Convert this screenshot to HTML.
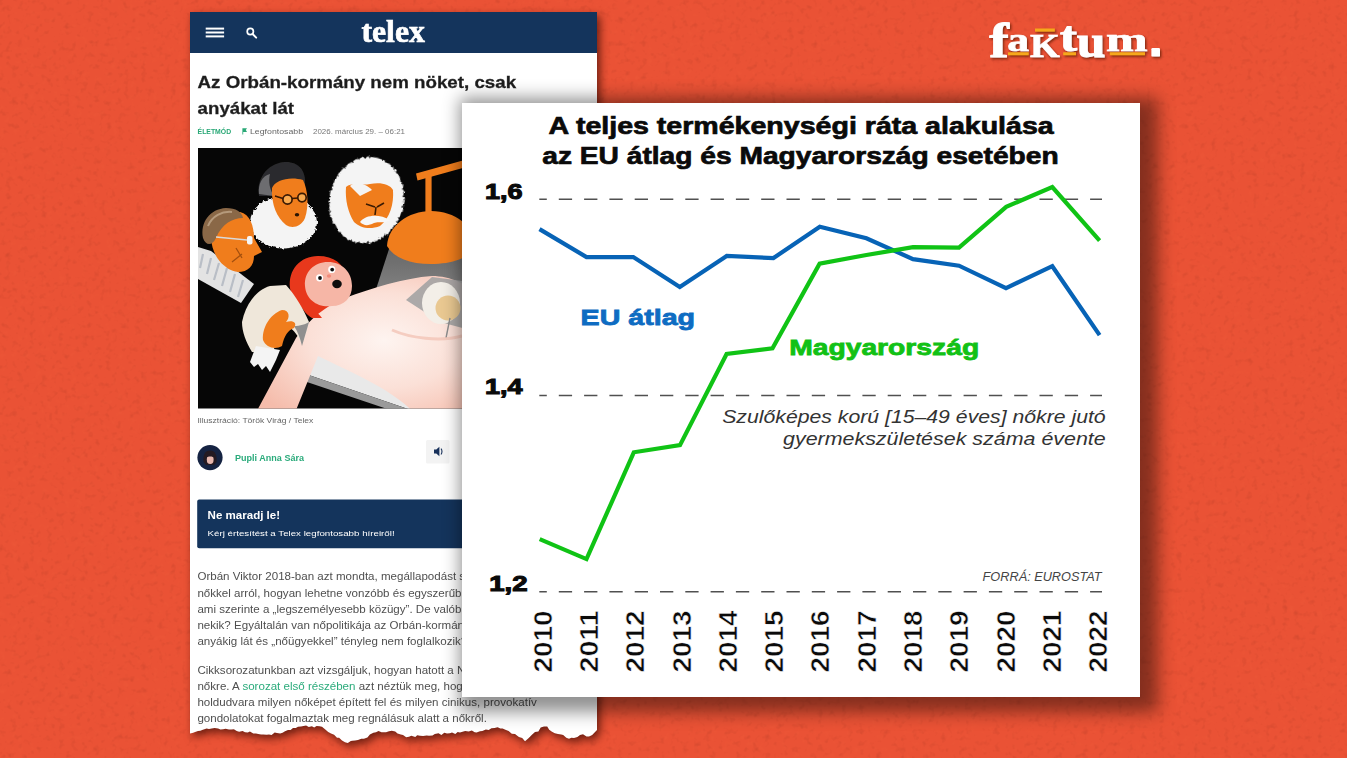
<!DOCTYPE html>
<html lang="hu">
<head>
<meta charset="utf-8">
<title>Faktum</title>
<style>
*{box-sizing:border-box;margin:0;padding:0}
html,body{width:1347px;height:758px;overflow:hidden}
body{position:relative;background:#ea5235;font-family:"Liberation Sans",sans-serif;}
#bgtex{position:absolute;left:0;top:0;width:1347px;height:758px}
#artshadow{position:absolute;left:0;top:0;width:1347px;height:758px;filter:drop-shadow(3px 4px 4px rgba(50,6,0,.68))}
#article{position:absolute;left:190px;top:12px;width:407px;height:746px;background:#fff;overflow:hidden;
 clip-path:polygon(0.0px 0.0px,407.0px 0.0px,407.0px 718.0px,404.6px 720.5px,402.2px 723.1px,399.0px 724.5px,396.5px 724.6px,393.0px 722.3px,390.0px 723.0px,387.4px 725.1px,384.0px 725.9px,381.4px 725.8px,379.0px 726.8px,376.3px 725.7px,373.2px 723.1px,371.2px 722.6px,368.0px 722.0px,364.8px 721.2px,362.0px 719.7px,359.2px 717.7px,357.2px 714.6px,354.0px 714.4px,350.7px 715.5px,348.4px 719.4px,345.0px 720.0px,342.2px 722.5px,338.5px 726.2px,335.0px 729.2px,332.2px 726.0px,328.9px 724.9px,325.0px 722.0px,321.8px 721.7px,318.6px 719.0px,316.0px 718.0px,312.6px 716.6px,310.4px 716.5px,307.6px 715.2px,304.5px 716.0px,301.4px 716.2px,298.7px 718.1px,295.8px 717.4px,292.4px 719.1px,290.0px 719.2px,286.6px 720.6px,284.7px 720.2px,281.8px 718.5px,278.7px 719.6px,275.2px 718.9px,273.4px 719.5px,270.0px 720.5px,267.7px 719.9px,265.3px 722.0px,262.0px 720.6px,259.9px 721.3px,257.0px 721.4px,254.3px 720.8px,251.4px 722.9px,248.5px 721.3px,244.8px 721.9px,242.5px 723.6px,239.0px 723.7px,236.7px 723.4px,233.1px 724.1px,230.0px 723.7px,227.2px 723.2px,225.3px 725.0px,221.3px 723.8px,219.0px 724.8px,216.2px 725.3px,213.0px 723.0px,210.8px 722.6px,207.5px 721.5px,205.2px 719.6px,201.8px 718.8px,199.0px 719.2px,196.0px 720.3px,194.3px 720.2px,191.5px 720.2px,188.5px 719.1px,186.0px 720.3px,183.4px 720.7px,179.9px 722.4px,177.4px 725.5px,173.9px 726.7px,171.3px 726.8px,168.0px 728.1px,165.1px 728.5px,162.4px 728.7px,160.8px 729.1px,157.8px 731.1px,155.0px 730.3px,152.0px 728.5px,149.1px 725.7px,147.0px 725.7px,144.1px 722.8px,141.0px 721.4px,138.2px 719.9px,135.3px 717.4px,132.0px 714.7px,129.6px 714.3px,126.6px 714.1px,124.2px 715.4px,121.9px 714.2px,118.8px 715.1px,116.1px 713.4px,113.5px 714.1px,111.0px 714.6px,108.0px 714.7px,105.8px 716.0px,103.0px 716.1px,100.6px 718.0px,98.0px 717.9px,95.0px 719.2px,92.6px 720.7px,90.2px 721.5px,87.0px 720.9px,84.7px 720.5px,81.6px 723.1px,79.0px 722.5px,76.6px 722.8px,73.3px 722.6px,71.1px 722.5px,68.2px 722.0px,66.0px 721.6px,63.3px 721.4px,59.9px 719.6px,57.8px 720.4px,55.0px 720.3px,52.6px 719.1px,49.1px 719.7px,46.7px 718.9px,43.9px 717.3px,41.3px 717.6px,39.0px 717.6px,35.6px 716.7px,33.1px 717.3px,30.5px 717.6px,28.1px 716.6px,24.6px 715.9px,21.7px 716.5px,19.0px 717.0px,16.6px 716.5px,12.9px 717.7px,10.3px 718.8px,8.0px 719.0px,5.1px 719.9px,3.2px 720.8px,0.0px 721.4px)}
#hdr{position:absolute;left:0;top:0;width:407px;height:41px;background:#14345c}
.abs{position:absolute;white-space:nowrap}
#card{position:absolute;left:462px;top:103px;width:678px;height:594px;background:#fff;box-shadow:8px 5px 16px 10px rgba(0,0,0,.43)}
#chart{position:absolute;left:0;top:0;width:1347px;height:758px}
</style>
</head>
<body>
<svg id="bgtex" width="1347" height="758">
 <filter id="noise" x="0" y="0" width="100%" height="100%" color-interpolation-filters="sRGB">
  <feTurbulence type="fractalNoise" baseFrequency="0.17" numOctaves="2" seed="11" result="n"/>
  <feColorMatrix type="matrix" values="0 0 0 0 0.15  0 0 0 0 0.02  0 0 0 0 0  2.2 0 0 0 -1.2" result="dark"/>
  <feColorMatrix in="n" type="matrix" values="0 0 0 0 1  0 0 0 0 0.48  0 0 0 0 0.3  0 -2.2 0 0 1.0" result="light"/>
  <feMerge><feMergeNode in="dark"/><feMergeNode in="light"/></feMerge>
 </filter>
 <rect width="1347" height="758" fill="#ea5235"/>
 <rect width="1347" height="758" filter="url(#noise)" opacity=".1"/>
</svg>

<div id="artshadow">
<div id="article">
 <div id="hdr"></div>
 <svg class="abs" style="left:0;top:0" width="407" height="746" viewBox="190 12 407 746" font-family="Liberation Sans, sans-serif">
  <defs>
   <clipPath id="imgclip"><rect x="198" y="148" width="391" height="260.5"/></clipPath>
   <filter id="soft" x="-5%" y="-5%" width="110%" height="110%"><feGaussianBlur stdDeviation="0.7"/></filter>
   <filter id="soft2" x="-20%" y="-20%" width="140%" height="140%"><feGaussianBlur stdDeviation="1.6"/></filter>
   <filter id="fuzz" x="-10%" y="-10%" width="120%" height="120%"><feTurbulence type="fractalNoise" baseFrequency="0.35" numOctaves="2" seed="3" result="t"/><feDisplacementMap in="SourceGraphic" in2="t" scale="4.5" xChannelSelector="R" yChannelSelector="G"/><feGaussianBlur stdDeviation="0.5"/></filter>
   <filter id="txtblur"><feGaussianBlur stdDeviation="0.5"/></filter>
   <radialGradient id="belly" cx="0.58" cy="0.45" r="0.66">
    <stop offset="0" stop-color="#fef4f0"/><stop offset=".5" stop-color="#fbe0d7"/><stop offset="1" stop-color="#f5bcab"/>
   </radialGradient>
   <linearGradient id="cone" x1="0" y1="0" x2="0" y2="1">
    <stop offset="0" stop-color="#6f6f6f"/><stop offset="1" stop-color="#a9a9a9"/>
   </linearGradient>
  </defs>
  <!-- header icons -->
  <g fill="#fff">
   <rect x="205.7" y="27.6" width="18.4" height="2"/>
   <rect x="205.7" y="31.5" width="18.4" height="2"/>
   <rect x="205.7" y="35.4" width="18.4" height="2"/>
  </g>
  <circle cx="250.3" cy="31.5" r="3.1" fill="none" stroke="#fff" stroke-width="1.7"/>
  <path d="M252.6 34 L256.2 37.6" stroke="#fff" stroke-width="2" stroke-linecap="round"/>
  <text x="361.4" y="41.5" font-family="Liberation Serif, serif" font-weight="700" font-size="32.5" fill="#fff" stroke="#fff" stroke-width=".7" textLength="63.5" lengthAdjust="spacingAndGlyphs">telex</text>
  <!-- headline -->
  <g font-weight="700" font-size="17" fill="#1f1f1f" stroke="#1f1f1f" stroke-width=".3" filter="url(#txtblur)">
   <text x="197.6" y="88.2" textLength="318.5" lengthAdjust="spacingAndGlyphs">Az Orbán-kormány nem nöket, csak</text>
   <text x="197.6" y="114.2" textLength="96.5" lengthAdjust="spacingAndGlyphs">anyákat lát</text>
  </g>
  <!-- meta -->
  <g font-size="6.4" filter="url(#txtblur)">
   <text x="197.6" y="133.8" font-weight="700" fill="#2aa876" textLength="33.5" lengthAdjust="spacingAndGlyphs">ÉLETMÓD</text>
   <path d="M242.4 128.2h4.6l-1.2 1.9 1.2 1.9h-3.8v2.6h-.8z" fill="#2aa876"/>
   <text x="250" y="133.8" fill="#666" textLength="53" lengthAdjust="spacingAndGlyphs">Legfontosabb</text>
   <text x="313" y="133.8" fill="#777" textLength="92" lengthAdjust="spacingAndGlyphs">2026. március 29. – 06:21</text>
  </g>
  <!--ILLU-START-->
  <g clip-path="url(#imgclip)">
   <rect x="198" y="148" width="391" height="261" fill="#060606"/>
   <g filter="url(#soft)">
    <!-- light cone from lamp -->
    <path d="M390 246 L368 314 L470 340 L470 246 Z" fill="url(#cone)" opacity=".92"/>
    <!-- table -->
    <path d="M318 352 L330 346 L470 420 L440 420 L300 372 Z" fill="#e9e9e9"/>
    <path d="M300 372 L440 420 L420 420 L298 379 Z" fill="#9a9a9a"/>
    <!-- figure 3: white hair + ruff -->
    <ellipse cx="366.500" cy="200" rx="37" ry="43.500" fill="#f4f4f4" transform="rotate(14 366.500 200)" filter="url(#fuzz)"/>
    <path d="M346 187 C352 182 362 186 370 184 C380 182 390 184 393 190 C394 204 390 218 380 226 C370 230 360 228 354 222 C348 212 345 200 346 187Z" fill="#f07d1d"/>
    <path d="M350 186 C356 180 366 184 372 190 L360 196 Z" fill="#f4f4f4"/>
    <path d="M360 222 C366 214 380 214 390 220 C384 224 378 221 374 223 C368 226 364 226 360 222Z" fill="#f7f7f7"/>
    <path d="M366 204 l9 3 M384 203 l-7 4 M376 207 l-1 8" stroke="#3a1c06" stroke-width="1.6" fill="none"/>
    <!-- figure 2: ruff, face, hair -->
    <ellipse cx="283.500" cy="222.500" rx="33.500" ry="26" fill="#f4f4f4" filter="url(#fuzz)"/>
    <path d="M259 196 C256 180 266 164 284 162 C298 161 306 170 305 184 L274 196 Z" fill="#2b2b2d"/>
    <path d="M259 194 C258 184 262 176 270 174 C268 182 270 190 274 196 Z" fill="#6d6d70"/>
    <path d="M272 188 C275 180 290 176 303 180 C308 190 309 206 305 218 C301 227 292 229 286 225 C277 218 271 204 272 188Z" fill="#f07d1d"/>
    <circle cx="287.500" cy="199.500" r="4.600" fill="#f9a94e" stroke="#3a1a04" stroke-width="1.700"/>
    <circle cx="302" cy="197.600" r="4.200" fill="#f9a94e" stroke="#3a1a04" stroke-width="1.700"/>
    <path d="M275 196 L283 198.500 M292 198.500 L298 198" stroke="#3a1a04" stroke-width="1.500"/>
    <ellipse cx="297" cy="214.800" rx="2.200" ry="1.700" fill="#2a1204"/>
    <!-- figure 1: ruff band, face, hair -->
    <path d="M198 247 L211 251 L254 284 L241 303 L198 279 Z" fill="#e3e3e3"/>
    <path d="M203 254l-3 14M211 258l-4 16M219 263l-5 17M227 268l-5 18M235 274l-5 18M243 280l-5 17" stroke="#b9bec6" stroke-width="2.200"/>
    <path d="M211 238 C210 222 222 211 240 212 C250 214 254 226 254 238 L262 252 L254 256 C254 266 248 272 238 272 C224 270 212 256 211 238Z" fill="#f07d1d"/>
    <path d="M203 238 C200 222 210 209 226 208 C236 208 242 212 243 218 C232 218 222 224 216 238 C212 246 206 246 203 238Z" fill="#8a6746"/>
    <path d="M208 226 C212 216 222 211 232 212" stroke="#b59a7c" stroke-width="2" fill="none"/>
    <path d="M216 237 L247 240" stroke="#d9d9d9" stroke-width="1.600"/>
    <rect x="247" y="236" width="5.500" height="8.500" rx="2" fill="#f6f6f6"/>
    <path d="M232 262 l10 -8 M236 248 l6 10" stroke="#a4500f" stroke-width="1.300" fill="none"/>
    <!-- lamp -->
    <path d="M416 173.500 L470 158.500 L470 166 L417.500 180.500 Z" fill="#f07d1d"/>
    <rect x="425.400" y="176" width="6.200" height="40" fill="#f07d1d"/>
    <path d="M387 246 C388 226 408 211 431 211 C455 211 474 226 476 246 C470 258 452 264 431 264 C410 264 394 258 387 246Z" fill="#f07d1d"/>
    <!-- baby hair -->
    <path d="M290 288 C288 270 300 256 318 256 C334 256 344 264 346 276 L344 300 C350 304 356 300 360 296 C356 310 340 318 322 316 C304 312 292 304 290 288Z" fill="#e8391c"/>
    <!-- body -->
    <path d="M252 420 L296 338 C310 318 326 306 345 298 C372 288 404 278 432 276 C450 276 470 284 480 300 L480 420 L420 420 C400 392 350 372 318 356 L292 420 Z" fill="url(#belly)"/>
    <!-- ultrasound thing -->
    <path d="M406 300 L432 277 L470 282 L470 330 L440 322 Z" fill="#a3a3a3" opacity=".9"/>
    <ellipse cx="441" cy="303" rx="19" ry="21" fill="#f3efe8"/>
    <circle cx="448" cy="308" r="12.500" fill="#e9c891"/>
    <path d="M450 318 L446 338" stroke="#8c8c8c" stroke-width="1.400"/>
    <path d="M392 330 C410 338 440 342 462 336" stroke="#f3c4b6" stroke-width="3" fill="none" opacity=".8"/>
    <!-- baby face -->
    <path d="M305 286 C304 272 314 262 328 262 C342 262 352 272 352 286 C352 298 344 306 332 306 C318 308 306 300 305 286Z" fill="#f6b6a6"/>
    <circle cx="319.600" cy="277.800" r="3.600" fill="#fff"/><circle cx="320" cy="278" r="1.900" fill="#111"/>
    <circle cx="331.800" cy="269.400" r="3.600" fill="#fff"/><circle cx="332.200" cy="269.600" r="1.900" fill="#111"/>
    <ellipse cx="337" cy="284" rx="4.800" ry="4.200" fill="#111"/>
    <ellipse cx="329" cy="276" rx="2.200" ry="1.800" fill="#f08a7a"/>
    <path d="M300 300 C308 306 318 312 322 318 L312 318 C306 314 300 308 300 300Z" fill="#e8391c"/>
    <!-- cloth, hand, cuff -->
    <path d="M242 322 C246 304 256 290 270 286 L286 285 C296 296 304 310 309 322 C306 334 304 340 302 344 C298 336 294 330 288 326 L272 352 L252 352 C246 342 242 332 242 322Z" fill="#efe7da"/>
    <path d="M294 326 C300 326 306 324 309 322 L302 346 C300 338 298 332 294 326Z" fill="#8f8f8f"/>
    <path d="M263 340 C262 328 270 314 282 310 C290 310 290 318 286 322 C292 320 298 322 294 328 C288 330 284 336 282 346 C276 350 266 348 263 340Z" fill="#f07d1d"/>
    <path d="M250 362 L256 346 L280 350 L276 360 L270 372 L266 366 L262 370 L258 364 L254 367 Z" fill="#f4f4f4"/>
   </g>
  </g>
  <!--ILLU-END-->
  <!-- caption -->
  <text x="197.4" y="422.8" font-size="7.2" fill="#666" filter="url(#txtblur)" textLength="116" lengthAdjust="spacingAndGlyphs">Illusztráció: Török Virág / Telex</text>
  <!-- author -->
  <circle cx="210" cy="457.6" r="12.6" fill="#152342"/>
  <path d="M203.5 462c-.8-7 1.5-11.500 6.500-11.500s7.300 4.500 6.500 11.500l-2.500 3h-8z" fill="#241a22"/>
  <ellipse cx="210.200" cy="459.500" rx="3.400" ry="4.600" fill="#e7b7ae"/>
  <path d="M206 458c1-3 3-4.500 4.500-4.500s3.500 1.500 4 4.500c-1.500-1.800-6-2.200-8.500 0z" fill="#241a22"/>
  <text x="235" y="461" font-size="8.3" font-weight="700" fill="#2bab7b" filter="url(#txtblur)" textLength="69" lengthAdjust="spacingAndGlyphs">Pupli Anna Sára</text>
  <rect x="426" y="440" width="23.5" height="23.5" rx="1.5" fill="#f3f3f3"/>
  <path d="M434 449.400h2.300l3.100-2.700v9.600l-3.100-2.700H434z" fill="#17305a"/>
  <path d="M441 448.700c1.300 1.500 1.300 4.300 0 5.800" fill="none" stroke="#17305a" stroke-width="1.100"/>
  <!-- blue box -->
  <rect x="197.2" y="499.500" width="392" height="48.700" rx="2" fill="#14345c"/>
  <text x="207.6" y="518.6" font-size="11.6" font-weight="700" fill="#fff" filter="url(#txtblur)" textLength="72.5" lengthAdjust="spacingAndGlyphs">Ne maradj le!</text>
  <text x="207.6" y="536" font-size="7.7" fill="#fff" filter="url(#txtblur)" textLength="187" lengthAdjust="spacingAndGlyphs">Kérj értesítést a Telex legfontosabb híreiről!</text>
  <!-- body -->
  <g font-size="10" fill="#4f4f4f" filter="url(#txtblur)" id="bodytxt">
   <text x="197.4" y="580.4" textLength="385.3" lengthAdjust="spacingAndGlyphs">Orbán Viktor 2018-ban azt mondta, megállapodást szeretne kötni a magyar</text>
   <text x="197.4" y="596.6" textLength="369.5" lengthAdjust="spacingAndGlyphs">nőkkel arról, hogyan lehetne vonzóbb és egyszerűbb a gyermekvállalás,</text>
   <text x="197.4" y="612.9" textLength="371.4" lengthAdjust="spacingAndGlyphs">ami szerinte a „legszemélyesebb közügy”. De valóban ez a legfontosabb</text>
   <text x="197.4" y="629.2" textLength="364.3" lengthAdjust="spacingAndGlyphs">nekik? Egyáltalán van nőpolitikája az Orbán-kormánynak, vagy csak az</text>
   <text x="197.4" y="645.4" textLength="269.9" lengthAdjust="spacingAndGlyphs">anyákig lát és „nőügyekkel” tényleg nem foglalkozik?</text>
   <text x="197.4" y="673.8" textLength="373.3" lengthAdjust="spacingAndGlyphs">Cikksorozatunkban azt vizsgáljuk, hogyan hatott a NER 16 éve a magyar</text>
   <text x="197.4" y="689.9" textLength="354.5" lengthAdjust="spacingAndGlyphs">nőkre. A <tspan fill="#2bab7b">sorozat első részében</tspan> azt néztük meg, hogy Orbán Viktor és</text>
   <text x="197.4" y="706.2" textLength="339.5" lengthAdjust="spacingAndGlyphs">holdudvara milyen nőképet épített fel és milyen cinikus, provokatív</text>
   <text x="197.4" y="722.4" textLength="289.5" lengthAdjust="spacingAndGlyphs">gondolatokat fogalmaztak meg regnálásuk alatt a nőkről.</text>
  </g>
 </svg>

</div>
</div>

<div id="card"></div>
<svg id="chart" width="1347" height="758" viewBox="0 0 1347 758">
 <g font-family="Liberation Sans, sans-serif">
 <!-- title -->
 <g font-weight="700" font-size="24.2" fill="#0a0a0a" stroke="#0a0a0a" stroke-width=".7">
  <text x="548.4" y="133.8" textLength="505.3" lengthAdjust="spacingAndGlyphs">A teljes termékenységi ráta alakulása</text>
  <text x="542.3" y="164.1" textLength="516.3" lengthAdjust="spacingAndGlyphs">az EU átlag és Magyarország esetében</text>
 </g>
 <!-- grid -->
 <g stroke="#505050" stroke-width="1.5" stroke-dasharray="13.3 12" stroke-dashoffset="5.8" fill="none">
  <path d="M539.3 199.3H1102"/>
  <path d="M539.3 395.6H1102"/>
  <path d="M539.3 591.8H1102"/>
 </g>
 <!-- y labels -->
 <g font-weight="700" font-size="22.4" fill="#0a0a0a" stroke="#0a0a0a" stroke-width="1.1">
  <text x="485" y="198.6" textLength="37.6" lengthAdjust="spacingAndGlyphs">1,6</text>
  <text x="485" y="394.2" textLength="37.6" lengthAdjust="spacingAndGlyphs">1,4</text>
  <text x="489.2" y="591" textLength="38.4" lengthAdjust="spacingAndGlyphs">1,2</text>
 </g>
 <!-- lines -->
 <polyline fill="none" stroke="#0763b6" stroke-width="4.2" stroke-linejoin="miter" stroke-linecap="butt"
  points="539.5,229.1 586.5,257.1 633.3,257.1 679.8,286.9 726.7,256 773.4,258.1 819.8,226.7 866.4,238.3 913,259.1 959,265.7 1006,288.1 1052.3,266.2 1099.6,335.1"/>
 <polyline fill="none" stroke="#10c315" stroke-width="4.2" stroke-linejoin="miter" stroke-linecap="butt"
  points="539.7,539.1 586.5,559.1 633.8,452.3 680,445.1 726.6,354 772.5,348.3 819.6,263.7 866.4,255 913,247.2 959,247.7 1006.2,206.8 1052.3,187.1 1099.6,240.6"/>
 <!-- series labels -->
 <g font-weight="700" font-size="22.6" stroke-width=".8">
  <text x="580.6" y="325.2" fill="#0e6cc2" stroke="#0e6cc2" textLength="114.5" lengthAdjust="spacingAndGlyphs">EU átlag</text>
  <text x="789.2" y="355.4" fill="#12c116" stroke="#12c116" textLength="190" lengthAdjust="spacingAndGlyphs">Magyarország</text>
 </g>
 <!-- note -->
 <g font-style="italic" font-size="18" fill="#333">
  <text x="722.2" y="423" textLength="383.5" lengthAdjust="spacingAndGlyphs">Szulőképes korú [15–49 éves] nőkre jutó</text>
  <text x="783" y="445.2" textLength="322.7" lengthAdjust="spacingAndGlyphs">gyermekszületések száma évente</text>
 </g>
 <text x="982.6" y="581.2" font-style="italic" font-size="12" fill="#444" textLength="119" lengthAdjust="spacingAndGlyphs">FORRÁ: EUROSTAT</text>
 <!-- years -->
 <g font-weight="700" font-size="26.6" fill="#0a0a0a" stroke="#fff" stroke-width=".55">
  <text transform="translate(551.5 672.4) rotate(-90)" textLength="62" lengthAdjust="spacingAndGlyphs">2010</text>
  <text transform="translate(597.8 672.4) rotate(-90)" textLength="62" lengthAdjust="spacingAndGlyphs">2011</text>
  <text transform="translate(644.1 672.4) rotate(-90)" textLength="62" lengthAdjust="spacingAndGlyphs">2012</text>
  <text transform="translate(690.5 672.4) rotate(-90)" textLength="62" lengthAdjust="spacingAndGlyphs">2013</text>
  <text transform="translate(736.8 672.4) rotate(-90)" textLength="62" lengthAdjust="spacingAndGlyphs">2014</text>
  <text transform="translate(783.1 672.4) rotate(-90)" textLength="62" lengthAdjust="spacingAndGlyphs">2015</text>
  <text transform="translate(829.4 672.4) rotate(-90)" textLength="62" lengthAdjust="spacingAndGlyphs">2016</text>
  <text transform="translate(875.7 672.4) rotate(-90)" textLength="62" lengthAdjust="spacingAndGlyphs">2017</text>
  <text transform="translate(922.1 672.4) rotate(-90)" textLength="62" lengthAdjust="spacingAndGlyphs">2018</text>
  <text transform="translate(968.4 672.4) rotate(-90)" textLength="62" lengthAdjust="spacingAndGlyphs">2019</text>
  <text transform="translate(1014.7 672.4) rotate(-90)" textLength="62" lengthAdjust="spacingAndGlyphs">2020</text>
  <text transform="translate(1061.0 672.4) rotate(-90)" textLength="62" lengthAdjust="spacingAndGlyphs">2021</text>
  <text transform="translate(1107.3 672.4) rotate(-90)" textLength="62" lengthAdjust="spacingAndGlyphs">2022</text>
 </g>
 </g>

</svg>
<!--LOGO-START-->
<svg class="abs" style="left:980px;top:10px" width="190" height="60" viewBox="980 10 190 60">
 <defs><filter id="lsh" x="-10%" y="-20%" width="120%" height="150%"><feDropShadow dx="1.3" dy="1.6" stdDeviation="0.9" flood-color="#5a1a00" flood-opacity=".75"/></filter></defs>
 <g filter="url(#lsh)">
  <g fill="#f6a81c">
   <rect x="1008" y="52.300" width="20.700" height="2.900"/>
   <rect x="1035" y="28.500" width="19.800" height="3.100"/>
   <rect x="1063.200" y="52.300" width="12.800" height="2.900"/>
   <rect x="1109.800" y="52.300" width="35.200" height="2.900"/>
  </g>
  <g font-family="Liberation Serif, serif" font-weight="700" font-size="45" fill="#fff" stroke="#fff" stroke-width=".9" id="logoletters">
   <text id="Lf" transform="translate(989.300 56.500) scale(1.30 1.10)">f</text>
   <text id="La" transform="translate(1007.300 50.500) scale(0.97 0.73)">a</text>
   <text id="Lk" transform="translate(1030 56.600) scale(0.85 0.77)">K</text>
   <text id="Lt" transform="translate(1059.700 50.500) scale(1.16 0.96)">t</text>
   <text id="Lu" transform="translate(1076.800 56.500) scale(1.15 1.04)">u</text>
   <text id="Lm" transform="translate(1106 50.500) scale(1.11 0.73)">m</text>
   <rect id="Ld" x="1151.400" y="48" width="8.600" height="8.600" rx="1.200" stroke="none"/>
  </g>
 </g>
</svg>
<!--LOGO-END-->
</body>
</html>
